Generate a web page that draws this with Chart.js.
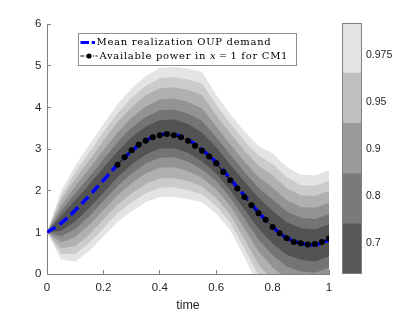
<!DOCTYPE html>
<html>
<head>
<meta charset="utf-8">
<script src="https://cdn.jsdelivr.net/npm/chart.js@4.4.1/dist/chart.umd.min.js"></script>
<style>
  body { margin: 0; background: #fff; }
  #wrap { position: relative; width: 415px; height: 312px; }
  #chart { position: absolute; left: 0; top: 0; }
  #bar { position: absolute; left: 330px; top: 0; }
</style>
</head>
<body>
<div id="wrap">
  <canvas id="chart" width="415" height="312"></canvas>
  <canvas id="bar" width="85" height="312"></canvas>
</div>
<script>
// time grid of the fan chart
const timeGrid = [0, 0.05, 0.1, 0.15, 0.2, 0.25, 0.3, 0.35, 0.4, 0.45, 0.5,
                  0.55, 0.6, 0.65, 0.7, 0.75, 0.8, 0.85, 0.9, 0.95, 1];
const meanDemand = [1.0, 1.22, 1.53, 1.88, 2.25, 2.62, 2.95, 3.2, 3.34, 3.35, 3.22,
                    2.98, 2.68, 2.28, 1.88, 1.48, 1.13, 0.87, 0.74, 0.7, 0.82];

// available power (black dots)
const dotsTime = [0.25, 0.275, 0.3, 0.325, 0.35, 0.375, 0.4, 0.425, 0.45, 0.475, 0.5,
                  0.525, 0.55, 0.575, 0.6, 0.625, 0.65, 0.675, 0.7, 0.725, 0.75,
                  0.775, 0.8, 0.825, 0.85, 0.875, 0.9, 0.925, 0.95, 0.975, 1];
const availPower = [2.62, 2.8, 2.97, 3.1, 3.2, 3.28, 3.33, 3.36, 3.33, 3.28, 3.2,
                    3.08, 2.96, 2.82, 2.66, 2.45, 2.25, 2.05, 1.85, 1.65, 1.46,
                    1.3, 1.13, 0.98, 0.86, 0.77, 0.74, 0.71, 0.72, 0.77, 0.85];

// contour band edges, outermost (1) to innermost (6)
const upper1 = [1.0, 2.0, 2.6, 3.1, 3.6, 4.08, 4.45, 4.75, 4.94, 4.97, 4.93, 4.85, 4.3, 3.84, 3.42, 3.08, 2.9, 2.57, 2.38, 2.37, 2.49];
const upper2 = [1.0, 1.88, 2.44, 2.92, 3.4, 3.86, 4.23, 4.52, 4.7, 4.73, 4.67, 4.57, 4.06, 3.61, 3.19, 2.84, 2.64, 2.32, 2.13, 2.12, 2.24];
const upper3 = [1.0, 1.77, 2.28, 2.73, 3.2, 3.64, 4.0, 4.29, 4.46, 4.48, 4.42, 4.29, 3.81, 3.37, 2.96, 2.6, 2.37, 2.06, 1.89, 1.87, 1.99];
const upper4 = [1.0, 1.63, 2.1, 2.53, 2.97, 3.39, 3.75, 4.02, 4.19, 4.21, 4.13, 3.97, 3.54, 3.11, 2.7, 2.33, 2.07, 1.77, 1.61, 1.59, 1.71];
const upper5 = [1.0, 1.51, 1.93, 2.33, 2.75, 3.16, 3.51, 3.77, 3.93, 3.95, 3.85, 3.67, 3.28, 2.86, 2.45, 2.07, 1.79, 1.5, 1.35, 1.32, 1.44];
const upper6 = [1.0, 1.39, 1.77, 2.15, 2.55, 2.94, 3.28, 3.54, 3.69, 3.71, 3.6, 3.39, 3.04, 2.62, 2.22, 1.83, 1.52, 1.24, 1.1, 1.07, 1.19];
const lower6 = [1.0, 1.03, 1.26, 1.59, 1.95, 2.32, 2.63, 2.87, 3.01, 3.02, 2.91, 2.7, 2.41, 2.01, 1.55, 1.09, 0.73, 0.46, 0.34, 0.3, 0.42];
const lower5 = [1.0, 0.9, 1.08, 1.39, 1.75, 2.11, 2.41, 2.65, 2.79, 2.8, 2.7, 2.51, 2.23, 1.83, 1.33, 0.82, 0.45, 0.18, 0.06, 0.03, 0.15];
const lower4 = [1.0, 0.76, 0.88, 1.18, 1.53, 1.89, 2.18, 2.42, 2.55, 2.56, 2.47, 2.31, 2.03, 1.63, 1.1, 0.54, 0.16, -0.12, -0.24, -0.25, -0.15];
const lower3 = [1.0, 0.61, 0.67, 0.95, 1.31, 1.66, 1.94, 2.16, 2.3, 2.3, 2.23, 2.1, 1.82, 1.42, 0.84, 0.23, -0.15, -0.44, -0.55, -0.56, -0.45];
const lower2 = [1.0, 0.48, 0.48, 0.75, 1.1, 1.46, 1.72, 1.94, 2.07, 2.08, 2.01, 1.91, 1.63, 1.23, 0.62, -0.03, -0.43, -0.72, -0.82, -0.83, -0.73];
const lower1 = [1.0, 0.35, 0.3, 0.55, 0.9, 1.25, 1.5, 1.72, 1.85, 1.85, 1.8, 1.72, 1.45, 1.05, 0.4, -0.3, -0.7, -1.0, -1.1, -1.1, -1.0];
const bandColors = ['#e4e4e4', '#cbcbcb', '#b0b0b0', '#939393', '#747474', '#535353'];

const xTicks = [0, 0.2, 0.4, 0.6, 0.8, 1];
const xTickLabels = ['0', '0.2', '0.4', '0.6', '0.8', '1'];
const yTicks = [0, 1, 2, 3, 4, 5, 6];
const yTickLabels = ['0', '1', '2', '3', '4', '5', '6'];

// colorbar
const cbLevels = ['0.7', '0.8', '0.9', '0.95', '0.975'];
const cbTickPos = [0.62, 1.55, 2.49, 3.43, 4.36];
const cbColors = ['#575757', '#7a7a7a', '#9b9b9b', '#bfbfbf', '#e4e4e4'];

const axisGray = '#808080';
const textGray = '#262626';

function pts(xs, ys) {
    return xs.map((x, i) => ({x: x, y: ys[i]}));
}

const bandUpper = [upper1, upper2, upper3, upper4, upper5, upper6];
const bandLower = [lower1, lower2, lower3, lower4, lower5, lower6];

const datasets = [
    {
        label: 'Available power in x = 1 for CM1',
        data: pts(dotsTime, availPower),
        borderColor: '#000',
        borderWidth: 1,
        borderDash: [6, 3, 1.5, 3],
        pointRadius: 3,
        pointBackgroundColor: '#000',
        pointBorderWidth: 0,
        fill: false,
        order: 0
    },
    {
        label: 'Mean realization OUP demand',
        data: pts(timeGrid, meanDemand),
        borderColor: '#0000ff',
        borderWidth: 3.5,
        borderDash: [10, 5],
        tension: 0.4,
        pointRadius: 0,
        fill: false,
        order: 1
    }
];
bandUpper.forEach((up, k) => {
    const idx = datasets.length;
    datasets.push({
        label: 'band' + k,
        data: pts(timeGrid, up),
        borderWidth: 0,
        borderColor: 'rgba(0,0,0,0)',
        backgroundColor: bandColors[k],
        pointRadius: 0,
        fill: idx + 1,
        order: 20 - k
    });
    datasets.push({
        label: 'band' + k + 'lo',
        data: pts(timeGrid, bandLower[k]),
        borderWidth: 0,
        borderColor: 'rgba(0,0,0,0)',
        pointRadius: 0,
        fill: false,
        order: 20 - k
    });
});

// draws a legend label, with the x in italics and math spacing round '='
function drawLabel(ctx, txt, x, y) {
    const font = '10px "DejaVu Serif"';
    const ifont = 'italic 10px "DejaVu Serif"';
    const m = txt.match(/^(.*) x = (.*)$/);
    const pieces = m
        ? [[m[1] + ' ', font, 0], ['x', ifont, 2.5], ['=', font, 2.5], [m[2], font, 0]]
        : [[txt, font, 0]];
    pieces.forEach(([s, f, gap]) => {
        ctx.font = f;
        ctx.fillText(s, x, y);
        x += ctx.measureText(s).width + gap;
    });
}

// MATLAB-style legend box inside the axes
const legendBox = {
    id: 'legendBox',
    afterDatasetsDraw(chart) {
        const ctx = chart.ctx;
        const a = chart.chartArea;
        const bx = a.left + 31.5, by = a.top + 9.5;
        const mean = chart.data.datasets[1];
        const power = chart.data.datasets[0];
        ctx.save();
        ctx.fillStyle = '#fff';
        ctx.fillRect(bx, by, 218, 32);
        ctx.strokeStyle = '#8c8c8c';
        ctx.lineWidth = 1;
        ctx.strokeRect(bx, by, 218, 32);

        const r1 = by + 9, r2 = by + 22.5;
        // mean sample
        ctx.strokeStyle = mean.borderColor;
        ctx.lineWidth = 3;
        ctx.setLineDash([8.5, 2.7]);
        ctx.beginPath();
        ctx.moveTo(bx + 2, r1);
        ctx.lineTo(bx + 16.5, r1);
        ctx.stroke();
        // power sample
        ctx.strokeStyle = power.borderColor;
        ctx.lineWidth = 1;
        ctx.setLineDash([3.5, 1.5, 1, 1.5]);
        ctx.beginPath();
        ctx.moveTo(bx + 2, r2);
        ctx.lineTo(bx + 19, r2);
        ctx.stroke();
        ctx.setLineDash([]);
        ctx.fillStyle = power.pointBackgroundColor;
        ctx.beginPath();
        ctx.arc(bx + 10.5, r2, 2.6, 0, Math.PI * 2);
        ctx.fill();

        // labels
        ctx.fillStyle = '#000';
        ctx.textBaseline = 'middle';
        ctx.letterSpacing = '0.7px';
        drawLabel(ctx, mean.label, bx + 18, r1);
        drawLabel(ctx, power.label, bx + 21, r2);
        ctx.restore();
    }
};

new Chart(document.getElementById('chart'), {
    type: 'line',
    data: {datasets: datasets},
    options: {
        responsive: false,
        animation: false,
        layout: {padding: {left: 0, right: 86, top: 24, bottom: 0}},
        plugins: {legend: {display: false}, tooltip: {enabled: false}},
        scales: {
            x: {
                type: 'linear',
                min: 0,
                max: 1,
                afterBuildTicks: s => { s.ticks = xTicks.map(v => ({value: v})); },
                afterFit: s => { s.height = 38; },
                ticks: {
                    callback: (v, i) => xTickLabels[i],
                    padding: 11,
                    maxRotation: 0,
                    color: textGray,
                    font: {family: '"Liberation Sans", Arial', size: 11.5}
                },
                grid: {drawOnChartArea: false, tickLength: -4, color: axisGray},
                border: {color: axisGray},
                title: {
                    display: true,
                    text: 'time',
                    color: textGray,
                    padding: {top: 0, bottom: -1},
                    font: {family: '"Liberation Sans", Arial', size: 12.5}
                }
            },
            y: {
                min: 0,
                max: 6,
                afterBuildTicks: s => { s.ticks = yTicks.map(v => ({value: v})); },
                afterFit: s => { s.width = 47; },
                ticks: {
                    callback: (v, i) => yTickLabels[i],
                    padding: 9.5,
                    color: textGray,
                    font: {family: '"Liberation Sans", Arial', size: 11.5}
                },
                grid: {drawOnChartArea: false, tickLength: -4, color: axisGray},
                border: {color: axisGray}
            }
        }
    },
    plugins: [legendBox]
});

// colorbar as a stacked bar
const frame = {
    id: 'frame',
    afterDraw(chart) {
        const a = chart.chartArea;
        const ctx = chart.ctx;
        ctx.save();
        ctx.strokeStyle = axisGray;
        ctx.lineWidth = 1;
        ctx.strokeRect(Math.round(a.left) + 0.5, Math.round(a.top) + 0.5,
                       Math.round(a.right - a.left) - 1, Math.round(a.bottom - a.top) - 1);
        ctx.restore();
    }
};

new Chart(document.getElementById('bar'), {
    type: 'bar',
    data: {
        labels: [''],
        datasets: cbColors.map((c, i) => ({
            label: cbLevels[i],
            data: [1],
            backgroundColor: c,
            borderWidth: 0,
            barPercentage: 1,
            categoryPercentage: 1
        }))
    },
    options: {
        responsive: false,
        animation: false,
        layout: {padding: {left: 12, right: 0, top: 23, bottom: 38}},
        plugins: {legend: {display: false}, tooltip: {enabled: false}},
        scales: {
            x: {display: false, stacked: true},
            y: {
                position: 'right',
                stacked: true,
                min: 0,
                max: 5,
                afterBuildTicks: s => { s.ticks = cbTickPos.map(v => ({value: v})); },
                afterFit: s => { s.width = 53; },
                ticks: {
                    callback: (v, i) => cbLevels[i],
                    padding: 7,
                    color: textGray,
                    font: {family: '"Liberation Sans", Arial', size: 10.5}
                },
                grid: {drawOnChartArea: false, tickLength: -3, color: axisGray},
                border: {display: false}
            }
        }
    },
    plugins: [frame]
});
</script>
</body>
</html>
